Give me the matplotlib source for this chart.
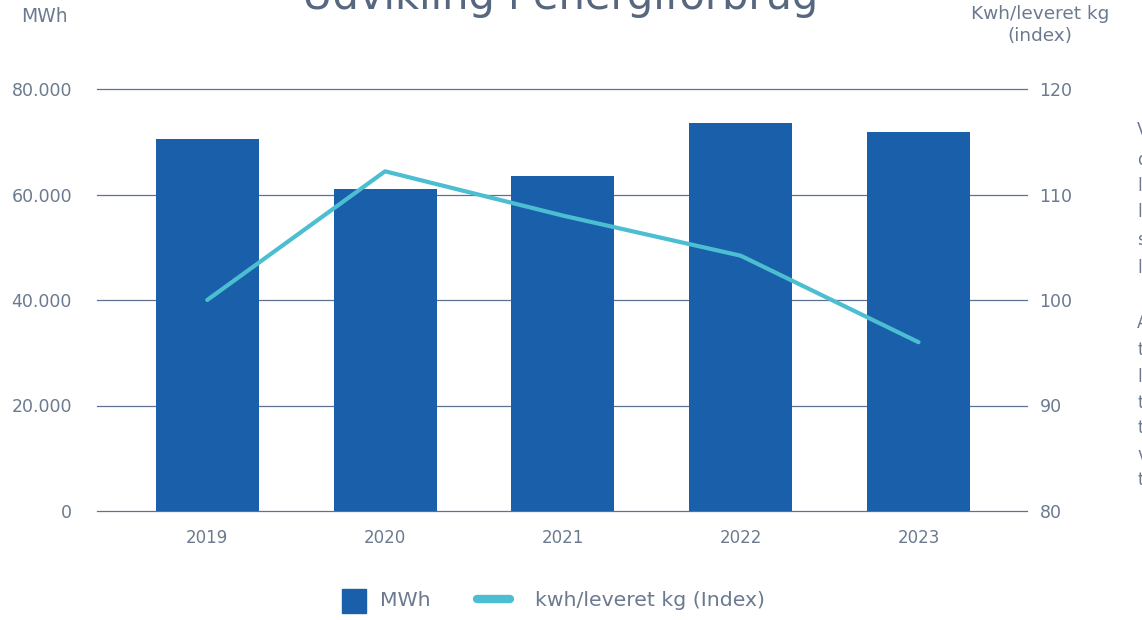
import numpy as np
from matplotlib import pyplot as plt

years = ['2019', '2020', '2021', '2022', '2023']
mwh = [70500, 61000, 63500, 73500, 71800]
kwh_index = [100, 112.2, 108, 104.2, 96]

left_ticks = [0, 20000, 40000, 60000, 80000]
left_labels = ['0', '20.000', '40.000', '60.000', '80.000']
right_ticks = [80, 90, 100, 110, 120]

# afskaaret tekst i hoejre kant
side_text = ['Vi', 'de', 'ly', 'ly', 'sa', 'la', 'Af', 'til', 'ly', 'til', 'tr', 'vi', 'til']
side_y = [130, 160, 186, 212, 240, 268, 323, 350, 377, 403, 428, 455, 480]

bar_col = '#1A5FAA'
line_col = '#4CBED2'
txt_col = '#6B7A8F'
grid_col = '#5D7190'

plt.rcParams['font.family'] = ['DejaVu Sans']

W, H = 1142, 620
fig = plt.figure(figsize=(W / 100, H / 100), dpi=100)
ax = fig.add_axes([97 / W, 1 - 511 / H, 930 / W, 422 / H])
ax2 = ax.twinx()

x = np.arange(len(years))
ax.bar(x, mwh, width=0.58, color=bar_col, zorder=2)
ax.set_xlim(-0.62, 4.61)
ax.set_ylim(0, 80000)
ax.set_yticks(left_ticks)
ax.set_yticklabels(left_labels)
ax.set_xticks(x)
ax.set_xticklabels(years)
for y in left_ticks:
    ax.axhline(y, color=grid_col, lw=0.9, zorder=1, clip_on=False)

ax2.plot(x, kwh_index, color=line_col, lw=3, zorder=3, solid_capstyle='round')
ax2.set_ylim(80, 120)
ax2.set_yticks(right_ticks)

for a in (ax, ax2):
    for s in a.spines.values():
        s.set_visible(False)
    a.tick_params(length=0, labelsize=12.5, colors=txt_col)
ax.tick_params(axis='x', labelsize=12)
ax.tick_params(axis='y', pad=18)
ax.tick_params(axis='x', pad=13)
ax2.tick_params(axis='y', pad=9)
ax.set_zorder(ax2.get_zorder() - 1)
ax2.patch.set_visible(False)
ax.patch.set_visible(False)

fig.text(560 / W, 1 - 9 / H, 'Udvikling i energiforbrug', ha='center', va='baseline',
         fontsize=30, color='#56677F')
fig.text(44 / W, 1 - 16 / H, 'MWh', ha='center', va='center', fontsize=13.5, color=txt_col)
fig.text(1040 / W, 1 - 25 / H, 'Kwh/leveret kg\n(index)', ha='center', va='center',
         fontsize=13.3, color=txt_col, linespacing=1.3)

for t, yy in zip(side_text, side_y):
    fig.text(1137 / W, 1 - yy / H, t, ha='left', va='center', fontsize=12, color=txt_col)

# legende
fig.patches.append(plt.Rectangle((342 / W, 1 - 613 / H), 24 / W, 24 / H,
                                 transform=fig.transFigure, color=bar_col))
fig.text(380 / W, 1 - 600 / H, 'MWh', ha='left', va='center', fontsize=14.7, color=txt_col)
fig.add_artist(plt.Line2D([477 / W, 510 / W], [1 - 599 / H, 1 - 599 / H], color=line_col,
                          lw=6, solid_capstyle='round', transform=fig.transFigure))
fig.text(535 / W, 1 - 600 / H, 'kwh/leveret kg (Index)', ha='left', va='center',
         fontsize=14.7, color=txt_col)

plt.savefig('out.png', dpi=100)
